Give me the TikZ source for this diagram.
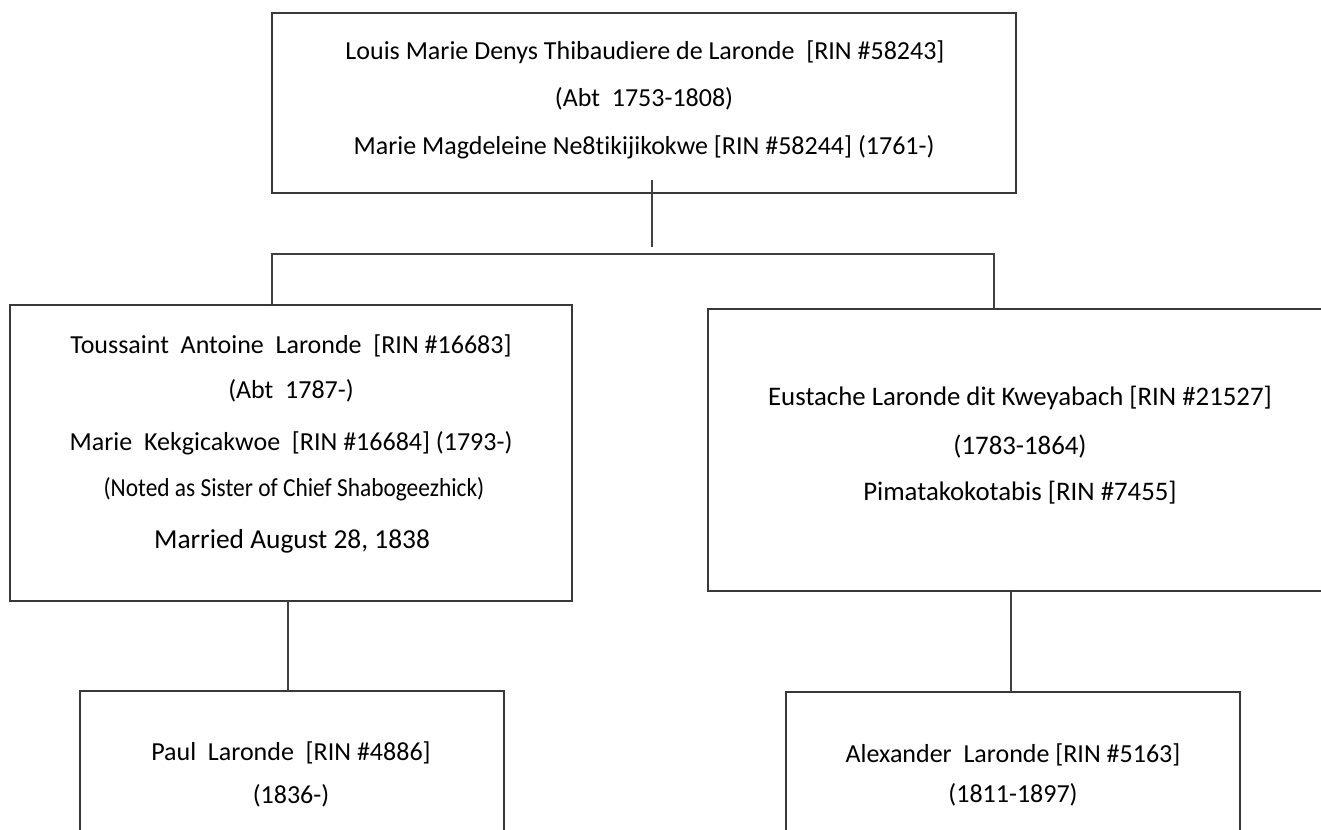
\documentclass[tikz,border=0pt]{standalone}
\usepackage{fontspec}
\usepackage{graphicx}
\setmainfont{Carlito}[Ligatures=NoCommon]
\begin{document}
\begin{tikzpicture}[x=1pt,y=-1pt,
  box/.style={draw=black!78,line width=1.3pt,rectangle,inner sep=0pt,outer sep=0pt,anchor=north west},
  txt/.style={anchor=base,inner sep=0pt,font=\fontsize{26}{30}\selectfont,text=black},
  bigtxt/.style={txt,font=\fontsize{26.8}{30}\selectfont},
  conn/.style={draw=black!75,line width=1.4pt}]
\clip (0,0) rectangle (1321,829);
\fill[white] (0,0) rectangle (1321,829);
% boxes
\node[box,minimum width=744pt,minimum height=180pt] (top) at (272,13) {};
\node[box,minimum width=562pt,minimum height=296pt] (left) at (10,305) {};
\node[box,minimum width=640pt,minimum height=282pt] (right) at (708,309) {};
\node[box,minimum width=424pt,minimum height=200pt] (paul) at (80,691) {};
\node[box,minimum width=454pt,minimum height=200pt] (alex) at (786,692) {};
% texts
\node[txt] (t1) at (645,60) {Louis Marie Denys Thibaudiere de Laronde\ \ [RIN \#58243]};
\node[txt] (t2) at (644,107) {(Abt\ \ 1753-1808)};
\node[txt] (t3) at (644,155) {Marie Magdeleine Ne8tikijikokwe [RIN \#58244] (1761-)};
\node[txt] (l1) at (291,353) {Toussaint\ \ Antoine\ \ Laronde\ \ [RIN \#16683]};
\node[txt] (l2) at (291,398) {(Abt\ \ 1787-)};
\node[txt] (l3) at (291,450) {Marie\ \ Kekgicakwoe\ \ [RIN \#16684] (1793-)};
\node[txt] (l4) at (294,496) {\scalebox{0.9}[1]{(Noted as Sister of Chief Shabogeezhick)}};
\node[txt,font=\fontsize{27.4}{30}\selectfont] (l5) at (292,548) {Married August 28, 1838};
\node[bigtxt] (r1) at (1020,405) {Eustache Laronde dit Kweyabach [RIN \#21527]};
\node[bigtxt] (r2) at (1020,454) {(1783-1864)};
\node[bigtxt] (r3) at (1020,500) {Pimatakokotabis [RIN \#7455]};
\node[txt] (p1) at (291,760) {Paul\ \ Laronde\ \ [RIN \#4886]};
\node[txt] (p2) at (291,803) {(1836-)};
\node[txt] (a1) at (1013,762) {Alexander\ \ Laronde [RIN \#5163]};
\node[txt] (a2) at (1013,802) {(1811-1897)};
% connectors
\coordinate (c1) at (652,180);
\coordinate (c2) at (652,247);
\coordinate (bl) at (272,254);
\coordinate (br) at (994,254);
\draw[conn] (c1) -- (c2);
\draw[conn] (bl |- left.north) -- (bl) -- (br) -- (br |- right.north);
\draw[conn] (288,0 |- left.south) -- (288,0 |- paul.north);
\draw[conn] (1011,0 |- right.south) -- (1011,0 |- alex.north);
\end{tikzpicture}
\end{document}
